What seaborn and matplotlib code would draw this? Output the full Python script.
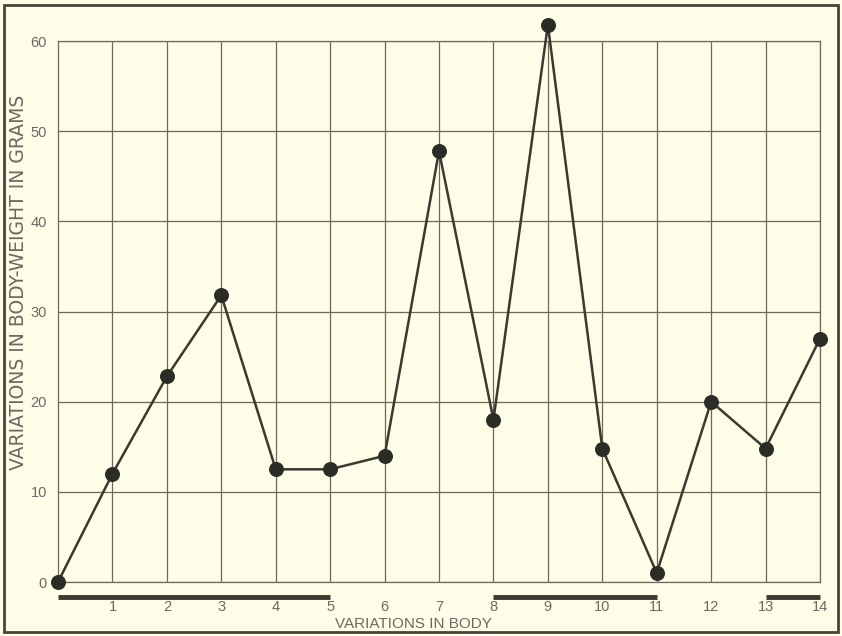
import matplotlib
matplotlib.use("Agg")
import matplotlib.pyplot as plt
import matplotlib.patches as mpatches
import pandas as pd
import seaborn as sns

# body variation index vs. change in body weight (grams)
variation = [0, 1, 2, 3, 4, 5, 6, 7, 8, 9, 10, 11, 12, 13, 14]
weight_change = [0, 12, 22.8, 31.8, 12.5, 12.5, 14, 47.8, 18, 61.8, 14.8, 1, 20, 14.8, 27]

# underlined ranges of the x axis
underline_start = [0, 8, 13]
underline_end = [5, 11, 14]

x_ticks = list(range(1, 15))
y_ticks = [0, 10, 20, 30, 40, 50, 60]

PAPER = "#fdfde8"
INK = "#3a3a30"
GRID = "#6b6b58"
TEXT = "#6a6a62"

sns.set_theme(style="white")
plt.rcParams["font.family"] = ["Liberation Sans", "DejaVu Sans"]

df = pd.DataFrame({"variation": variation, "weight": weight_change})

fig = plt.figure(figsize=(8.42, 6.36), dpi=100, facecolor=PAPER)
ax = fig.add_axes([0.0689, 0.0849, 0.9050, 0.8506])
ax.set_facecolor(PAPER)

sns.lineplot(data=df, x="variation", y="weight", ax=ax, color=INK, linewidth=1.8,
             marker="o", markersize=10, markerfacecolor="#2c2c26",
             markeredgecolor="#2c2c26", clip_on=False, zorder=5)

ax.hlines([-1.65] * len(underline_start), underline_start, underline_end,
          color="#3a3a30", linewidth=3.5, clip_on=False)

ax.set_xlim(0, 14)
ax.set_ylim(0, 60)
ax.set_xticks(x_ticks)
ax.set_yticks(y_ticks)
ax.grid(True, color=GRID, linewidth=0.9)
ax.set_axisbelow(True)
for s in ax.spines.values():
    s.set_color(GRID)
    s.set_linewidth(0.9)

ax.tick_params(axis="x", length=0, pad=13, labelsize=10.5, labelcolor=TEXT)
ax.tick_params(axis="y", length=0, pad=8, labelsize=10.5, labelcolor=TEXT)

ax.set_xlabel("VARIATIONS IN BODY", fontsize=11, color=TEXT)
ax.set_ylabel("VARIATIONS IN BODY-WEIGHT IN GRAMS", fontsize=13.5, color=TEXT,
              family=["DejaVu Sans"])
ax.xaxis.set_label_coords(0.466, -0.0647)
ax.yaxis.set_label_coords(-0.039, 0.553)

fig.patches.append(mpatches.Rectangle((4 / 842, 4 / 636), 834 / 842, 627 / 636,
                                      transform=fig.transFigure, fill=False,
                                      edgecolor="#45453a", linewidth=2))

fig.savefig("out.png", dpi=100, facecolor=PAPER)
